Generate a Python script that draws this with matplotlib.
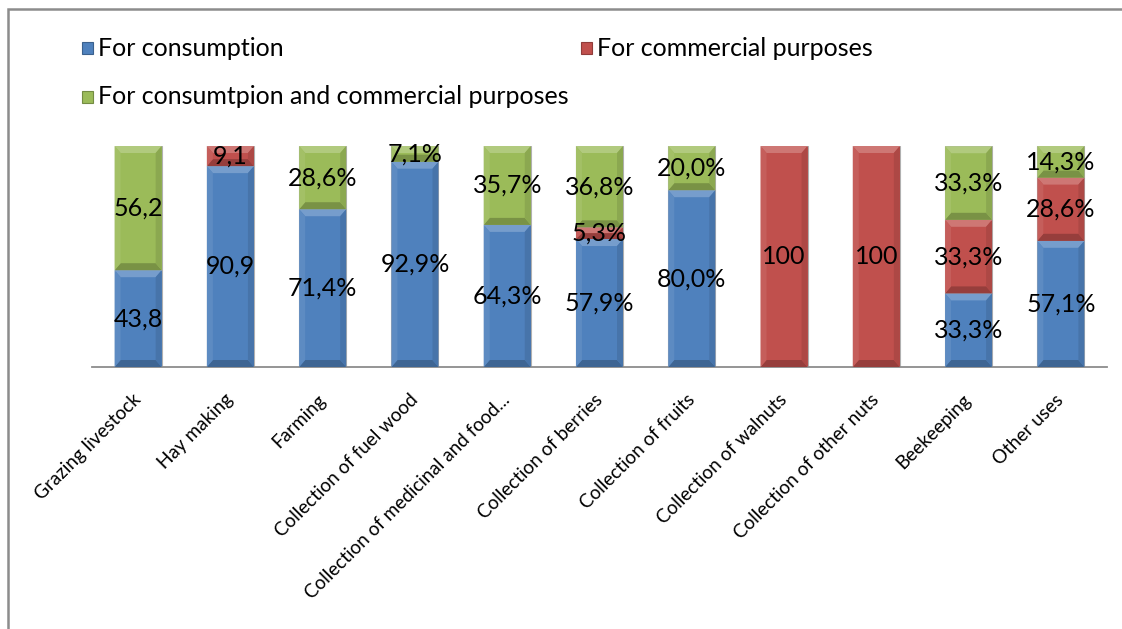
import matplotlib
matplotlib.use("Agg")
import matplotlib.pyplot as plt
from matplotlib.patches import Rectangle, Polygon
from matplotlib.transforms import offset_copy
from matplotlib.colors import to_rgb

plt.rcParams['font.family'] = ['Lato', 'DejaVu Sans']

categories = ["Grazing livestock", "Hay making", "Farming", "Collection of fuel wood",
              "Collection of medicinal and food...", "Collection of berries",
              "Collection of fruits", "Collection of walnuts",
              "Collection of other nuts", "Beekeeping", "Other uses"]

consumption = [43.8, 90.9, 71.4, 92.9, 64.3, 57.9, 80.0, 0, 0, 33.3, 57.1]
commercial = [0, 9.1, 0, 0, 0, 5.3, 0, 100, 100, 33.3, 28.6]
both = [56.2, 0, 28.6, 7.1, 35.7, 36.8, 20.0, 0, 0, 33.3, 14.3]

# how each bar's labels are written: 'num' -> 43,8 ; 'int' -> 100 ; 'pct' -> 71,4%
label_style = ['num', 'num', 'pct', 'pct', 'pct', 'pct', 'pct', 'int', 'int', 'pct', 'pct']

series_names = ["For consumption", "For commercial purposes",
                "For consumtpion and commercial purposes"]
colors = ['#4f81bd', '#c0504d', '#9bbb59']

W, H = 1122, 629


def fmt(v, style):
    if style == 'int':
        return "%d" % round(v)
    s = ("%.1f" % v).replace('.', ',')
    return s + '%' if style == 'pct' else s


def shade(c, f):
    r, g, b = to_rgb(c)
    if f >= 0:
        return (r + (1 - r) * f, g + (1 - g) * f, b + (1 - b) * f)
    return (r * (1 + f), g * (1 + f), b * (1 + f))


def bevel(ax, x0, y0, x1, y1, color, bx, by):
    by = min(by, (y1 - y0) / 2.0)
    bx = min(bx, (x1 - x0) / 2.0)
    ax.add_patch(Rectangle((x0, y0), x1 - x0, y1 - y0, facecolor=color,
                           edgecolor='#b0b0b0', lw=0.8, zorder=2))
    ix0, ix1, iy0, iy1 = x0 + bx, x1 - bx, y0 + by, y1 - by
    parts = [
        ([(x0, y1), (x1, y1), (ix1, iy1), (ix0, iy1)], 0.22),
        ([(x0, y0), (x1, y0), (ix1, iy0), (ix0, iy0)], -0.22),
        ([(x0, y0), (x0, y1), (ix0, iy1), (ix0, iy0)], 0.08),
        ([(x1, y0), (x1, y1), (ix1, iy1), (ix1, iy0)], -0.10),
    ]
    for pts, f in parts:
        ax.add_patch(Polygon(pts, closed=True, facecolor=shade(color, f),
                             edgecolor='none', zorder=3))


fig = plt.figure(figsize=(W / 100, H / 100), dpi=100)
fig.patch.set_facecolor('white')

# chart frame, cut off on the right and at the bottom
fig.add_artist(Rectangle((8 / W, -0.2), 1.2, (H - 9) / H + 0.2,
                         transform=fig.transFigure, facecolor='none',
                         edgecolor='#8c8c8c', lw=1.8, clip_on=False))

ax_l, ax_r, ax_b, ax_t = 92, 1107, 367, 146
ax = fig.add_axes([ax_l / W, (H - ax_b) / H, (ax_r - ax_l) / W, (ax_b - ax_t) / H])
ax.set_xlim(-0.5, len(categories) - 0.5)
ax.set_ylim(0, 100)
for s in ['top', 'right', 'left']:
    ax.spines[s].set_visible(False)
ax.spines['bottom'].set_color('#8c8c8c')
ax.spines['bottom'].set_linewidth(1.3)
ax.set_yticks([])
ax.set_xticks([])

bar_w = 0.51
bx = 6 / ((ax_r - ax_l) / len(categories))
by = 7 / ((ax_b - ax_t) / 100.0)

for i in range(len(categories)):
    base = 0
    for vals, col in zip([consumption, commercial, both], colors):
        v = vals[i]
        if v <= 0:
            continue
        bevel(ax, i - bar_w / 2, base, i + bar_w / 2, base + v, col, bx, by)
        ax.text(i, base + v / 2, fmt(v, label_style[i]), ha='center', va='center',
                fontsize=18, color='black', zorder=5)
        base += v

# rotated category names
lab_tr = offset_copy(ax.get_xaxis_transform(), fig=fig, x=-6, y=-24, units='dots')
for i, name in enumerate(categories):
    ax.text(i, 0, name, transform=lab_tr, rotation=45, rotation_mode='anchor',
            ha='right', va='top', fontsize=13.6, color='black')

# legend entries
legend_pos = [(82, 48), (581, 48), (82, 97)]
for (lx, ly), name, col in zip(legend_pos, series_names, colors):
    sq = 11
    fig.add_artist(Rectangle((lx / W, (H - ly - sq / 2) / H), sq / W, sq / H,
                             transform=fig.transFigure, facecolor=col,
                             edgecolor=shade(col, -0.25), lw=0.8))
    fig.text((lx + 16) / W, (H - ly) / H, name, ha='left', va='center',
             fontsize=18, color='black')

fig.savefig('out.png', dpi=100)
